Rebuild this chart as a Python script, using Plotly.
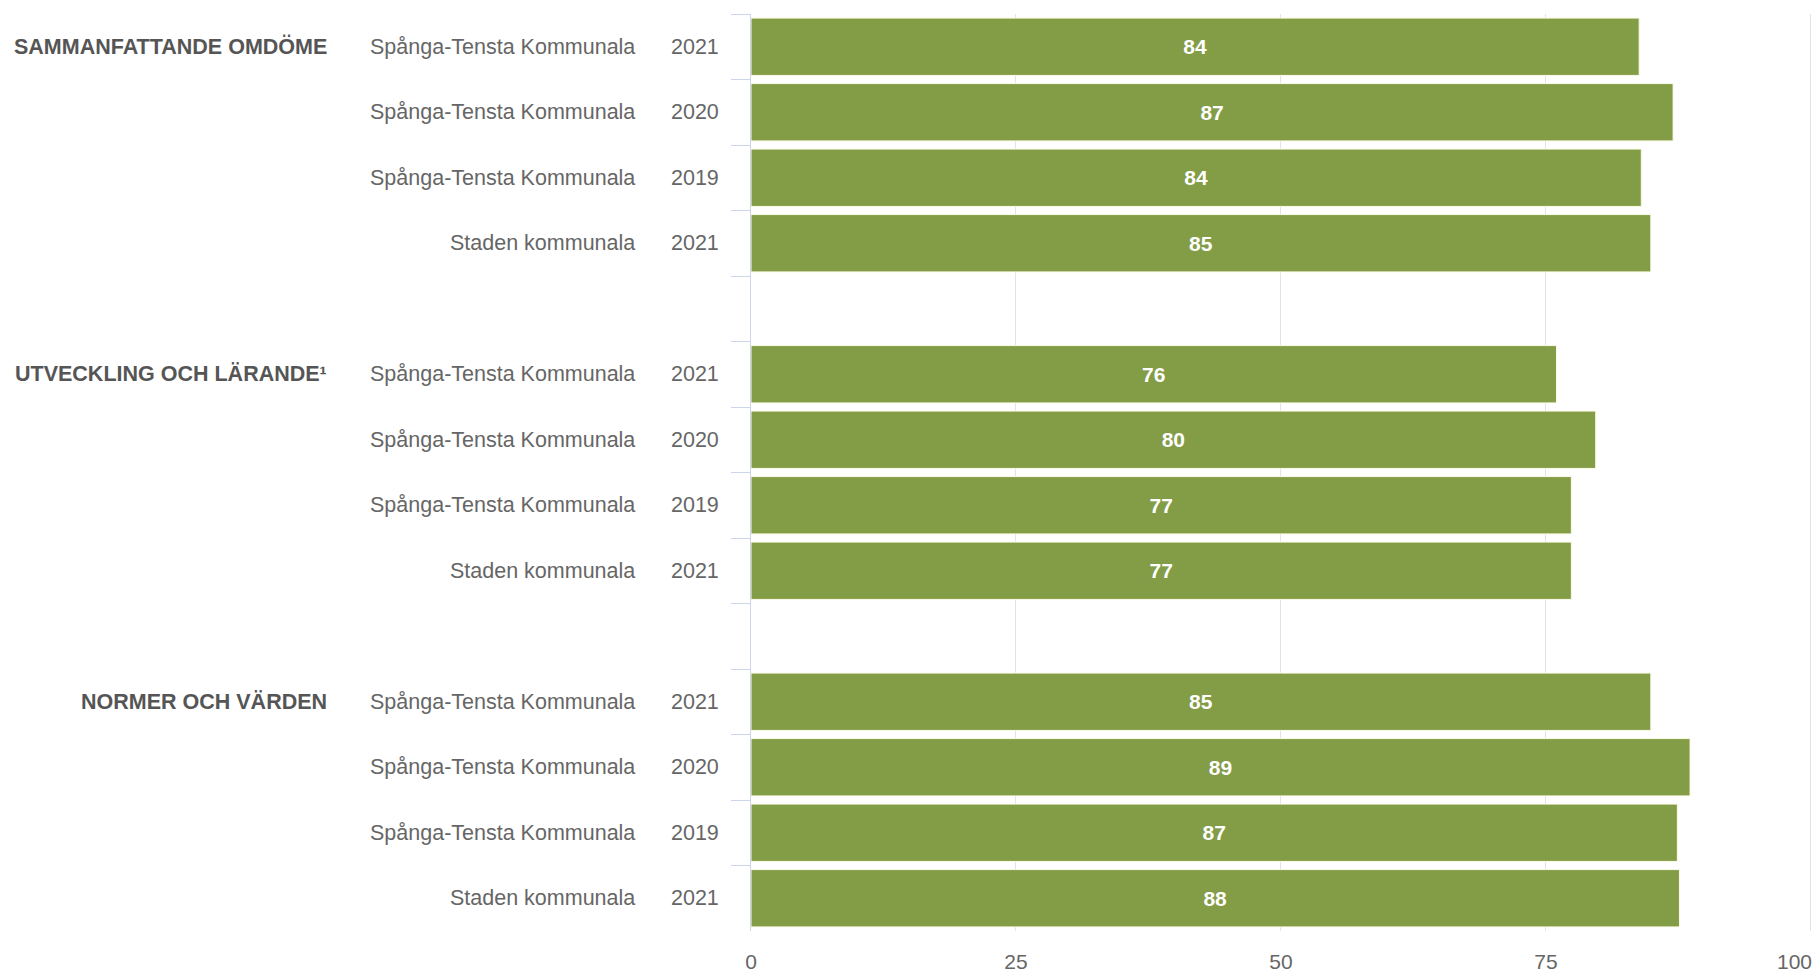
import plotly.graph_objects as go

# ---- data ----
groups = ["SAMMANFATTANDE OMDÖME", "UTVECKLING OCH LÄRANDE¹", "NORMER OCH VÄRDEN"]
units = ["Spånga-Tensta Kommunala", "Spånga-Tensta Kommunala", "Spånga-Tensta Kommunala", "Staden kommunala"]
years = ["2021", "2020", "2019", "2021"]
values_sammanfattande = [83.8, 87.0, 84.0, 84.9]
values_utveckling = [76.0, 79.7, 77.4, 77.4]
values_normer = [84.9, 88.6, 87.4, 87.6]
all_values = [values_sammanfattande, values_utveckling, values_normer]
x_ticks = [0, 25, 50, 75, 100]

BAR = "#839c46"
LABEL = "#666666"
GROUP = "#555555"
FONT = "Liberation Sans, Arial, sans-serif"

# categorical rows, with an empty category between groups
cats = []
bar_y, bar_x = [], []
for g, vals in enumerate(all_values):
    for i, v in enumerate(vals):
        cid = f"r{g}_{i}"
        cats.append(cid)
        bar_y.append(cid)
        bar_x.append(v)
    if g < len(all_values) - 1:
        cats.append(f"gap{g}")

fig = go.Figure()
fig.add_trace(go.Bar(
    x=bar_x, y=bar_y, orientation="h",
    marker=dict(color=BAR, line=dict(color="#fbfbe8", width=1)),
    width=0.875,
    text=bar_x, texttemplate="%{x:.0f}", textposition="inside",
    insidetextanchor="middle", textangle=0,
    textfont=dict(color="white", size=21, family=FONT, weight="bold"),
    hoverinfo="skip",
))

# layout specified in window pixels (page body margin removed below)
W, H = 1816, 972
X_MAX = 100.2
unit_px = (1810.6 - 751) / 100.0
ML = 751
MT = 14
MR = W - (751 + X_MAX * unit_px)
MB = H - 931.5
pw = W - ML - MR


def px_to_paper(xw):
    return (xw - ML) / pw


annotations = []
for g, vals in enumerate(all_values):
    annotations.append(dict(
        x=px_to_paper(329), xref="paper", y=f"r{g}_0", yref="y", text=groups[g],
        showarrow=False, xanchor="right", yanchor="middle",
        font=dict(size=21.5, color=GROUP, family=FONT, weight="bold"),
    ))
    for i in range(len(vals)):
        annotations.append(dict(
            x=px_to_paper(637), xref="paper", y=f"r{g}_{i}", yref="y", text=units[i],
            showarrow=False, xanchor="right", yanchor="middle",
            font=dict(size=21.5, color=LABEL, family=FONT),
        ))
        annotations.append(dict(
            x=px_to_paper(721), xref="paper", y=f"r{g}_{i}", yref="y", text=years[i],
            showarrow=False, xanchor="right", yanchor="middle",
            font=dict(size=21.5, color=LABEL, family=FONT),
        ))

# last x tick label is pulled inside the chart edge (as in the original)
tick_text = [str(t) for t in x_ticks]
last_label = tick_text[-1]
tick_text[-1] = ""
annotations.append(dict(
    x=x_ticks[-1], xref="x", y=0, yref="paper", text=last_label,
    showarrow=False, xanchor="right", yanchor="top", xshift=3, yshift=-17,
    font=dict(size=21, color=LABEL, family=FONT),
))

fig.update_layout(
    width=W, height=H,
    margin=dict(l=ML, r=MR, t=MT, b=MB, pad=0, autoexpand=False),
    paper_bgcolor="white", plot_bgcolor="white",
    showlegend=False,
    annotations=annotations,
    xaxis=dict(
        range=[0, X_MAX], tickvals=x_ticks, ticktext=tick_text,
        showgrid=True, gridcolor="#e3e3e3", gridwidth=1,
        zeroline=False, showline=False, ticks="",
        tickfont=dict(size=21, color=LABEL, family=FONT),
        ticklabelstandoff=16, automargin=False,
    ),
    yaxis=dict(
        type="category", categoryorder="array", categoryarray=cats,
        autorange="reversed",
        showticklabels=False, ticks="outside", tickson="boundaries",
        ticklen=19, tickcolor="#ccd6eb", tickwidth=1,
        showline=True, linecolor="#ccd6eb", linewidth=1,
        showgrid=False, zeroline=False, automargin=False,
    ),
)

fig.write_html(
    "out.html",
    config={"displayModeBar": False},
    post_script="document.body.style.margin='0';document.body.style.overflow='hidden';",
)
